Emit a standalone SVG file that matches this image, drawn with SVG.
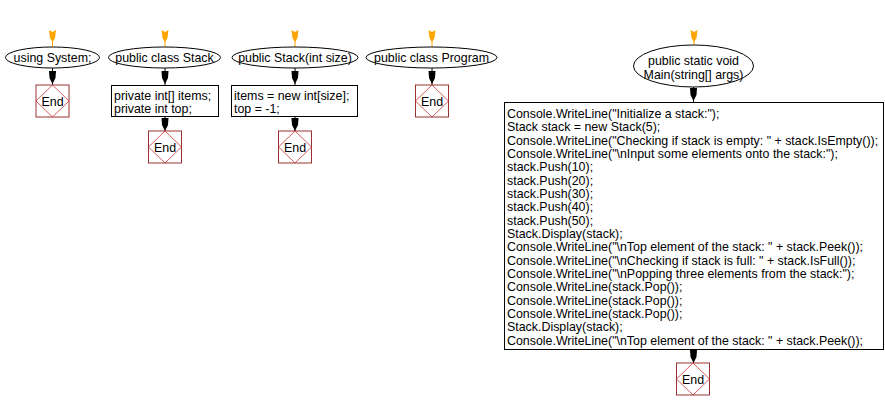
<svg xmlns="http://www.w3.org/2000/svg" width="885" height="410" viewBox="0 0 885 410">
<style>
text{font-family:"Liberation Sans",Arial,sans-serif;font-size:12.4px;fill:#000}
.c{text-anchor:middle}
.el{fill:#fff;stroke:#000;stroke-width:1}
.bx{fill:#fff;stroke:#000;stroke-width:1}
.eb{fill:#fff;stroke:#993333;stroke-width:1}
.dm{fill:none;stroke:#cc3333;stroke-width:0.8}
.or{fill:#ffa500}
.bk{fill:#000}
.ln{stroke:#000;stroke-width:1}
.lo{stroke:#ffa500;stroke-width:1}
</style>
<defs>
<path id="oa" d="M-3.5,0 L0,2 L3.5,0 L2.5,8 L0,12 L-2.5,8 Z"/>
<path id="ba" d="M-3.5,0 L3.5,0 L3,7 L0,13 L-3,7 Z"/>
<g id="end">
<rect class="eb" x="-16.5" y="0" width="33" height="32"/>
<path class="dm" d="M0,0 L16.5,16 L0,32 L-16.5,16 Z"/>
<text class="c" x="0" y="20.5">End</text>
</g>
</defs>
<g id="connectors">
<use href="#oa" class="or" x="52.5" y="30"/><line class="lo" x1="52.5" y1="40" x2="52.5" y2="47"/>
<use href="#ba" class="bk" x="52.5" y="71"/><line class="ln" x1="52.5" y1="68" x2="52.5" y2="85"/>
<use href="#oa" class="or" x="165" y="30"/><line class="lo" x1="165" y1="40" x2="165" y2="47"/>
<use href="#ba" class="bk" x="165" y="71"/><line class="ln" x1="165" y1="68" x2="165" y2="85"/>
<use href="#ba" class="bk" x="165" y="118"/><line class="ln" x1="165" y1="117" x2="165" y2="131"/>
<use href="#oa" class="or" x="295" y="30"/><line class="lo" x1="295" y1="40" x2="295" y2="47"/>
<use href="#ba" class="bk" x="295" y="71"/><line class="ln" x1="295" y1="68" x2="295" y2="85"/>
<use href="#ba" class="bk" x="295" y="118"/><line class="ln" x1="295" y1="117" x2="295" y2="131"/>
<use href="#oa" class="or" x="432" y="30"/><line class="lo" x1="432" y1="40" x2="432" y2="47"/>
<use href="#ba" class="bk" x="432" y="71"/><line class="ln" x1="432" y1="68" x2="432" y2="85"/>
<use href="#oa" class="or" x="694" y="30"/><line class="lo" x1="694" y1="40" x2="694" y2="45"/>
<use href="#ba" class="bk" x="693.5" y="88"/><line class="ln" x1="693.5" y1="87" x2="693.5" y2="102"/>
<use href="#ba" class="bk" x="693.5" y="350"/><line class="ln" x1="693.5" y1="349" x2="693.5" y2="363"/>
</g>
<g id="n1">
<ellipse class="el" cx="52.5" cy="57.5" rx="47" ry="10.5"/>
<text class="c" x="52.5" y="62">using System;</text>
<use href="#end" x="52.5" y="85"/>
</g>
<g id="n2">
<ellipse class="el" cx="164.5" cy="57.5" rx="56" ry="10.5"/>
<text class="c" x="164.5" y="62">public class Stack</text>
<rect class="bx" x="111.5" y="85.5" width="107" height="31"/>
<text x="114" y="99.5">private int[] items;</text>
<text x="114" y="112.5">private int top;</text>
<use href="#end" x="165" y="131"/>
</g>
<g id="n3">
<ellipse class="el" cx="295" cy="57.5" rx="63" ry="10.5"/>
<text class="c" x="295" y="62">public Stack(int size)</text>
<rect class="bx" x="231.5" y="85.5" width="126" height="31"/>
<text x="234" y="99.5">items = new int[size];</text>
<text x="234" y="112.5">top = -1;</text>
<use href="#end" x="295" y="131"/>
</g>
<g id="n4">
<ellipse class="el" cx="431.5" cy="57.5" rx="65.5" ry="10.5"/>
<text class="c" x="431.5" y="62">public class Program</text>
<use href="#end" x="432" y="85"/>
</g>
<g id="n5">
<ellipse class="el" cx="693.5" cy="66" rx="60" ry="21"/>
<text class="c" x="693.5" y="64.5">public static void</text>
<text class="c" x="693.5" y="78.5">Main(string[] args)</text>
<rect class="bx" x="504.5" y="102.5" width="379" height="247"/>
<text x="507" y="117.8">Console.WriteLine("Initialize a stack:");</text>
<text x="507" y="131.1">Stack stack = new Stack(5);</text>
<text x="507" y="144.5">Console.WriteLine("Checking if stack is empty: " + stack.IsEmpty());</text>
<text x="507" y="157.8">Console.WriteLine("\nInput some elements onto the stack:");</text>
<text x="507" y="171.1">stack.Push(10);</text>
<text x="507" y="184.5">stack.Push(20);</text>
<text x="507" y="197.8">stack.Push(30);</text>
<text x="507" y="211.1">stack.Push(40);</text>
<text x="507" y="224.5">stack.Push(50);</text>
<text x="507" y="237.8">Stack.Display(stack);</text>
<text x="507" y="251.1">Console.WriteLine("\nTop element of the stack: " + stack.Peek());</text>
<text x="507" y="264.5">Console.WriteLine("\nChecking if stack is full: " + stack.IsFull());</text>
<text x="507" y="277.8">Console.WriteLine("\nPopping three elements from the stack:");</text>
<text x="507" y="291.1">Console.WriteLine(stack.Pop());</text>
<text x="507" y="304.5">Console.WriteLine(stack.Pop());</text>
<text x="507" y="317.8">Console.WriteLine(stack.Pop());</text>
<text x="507" y="331.1">Stack.Display(stack);</text>
<text x="507" y="344.5">Console.WriteLine("\nTop element of the stack: " + stack.Peek());</text>
<use href="#end" x="693" y="363"/>
</g>
</svg>
